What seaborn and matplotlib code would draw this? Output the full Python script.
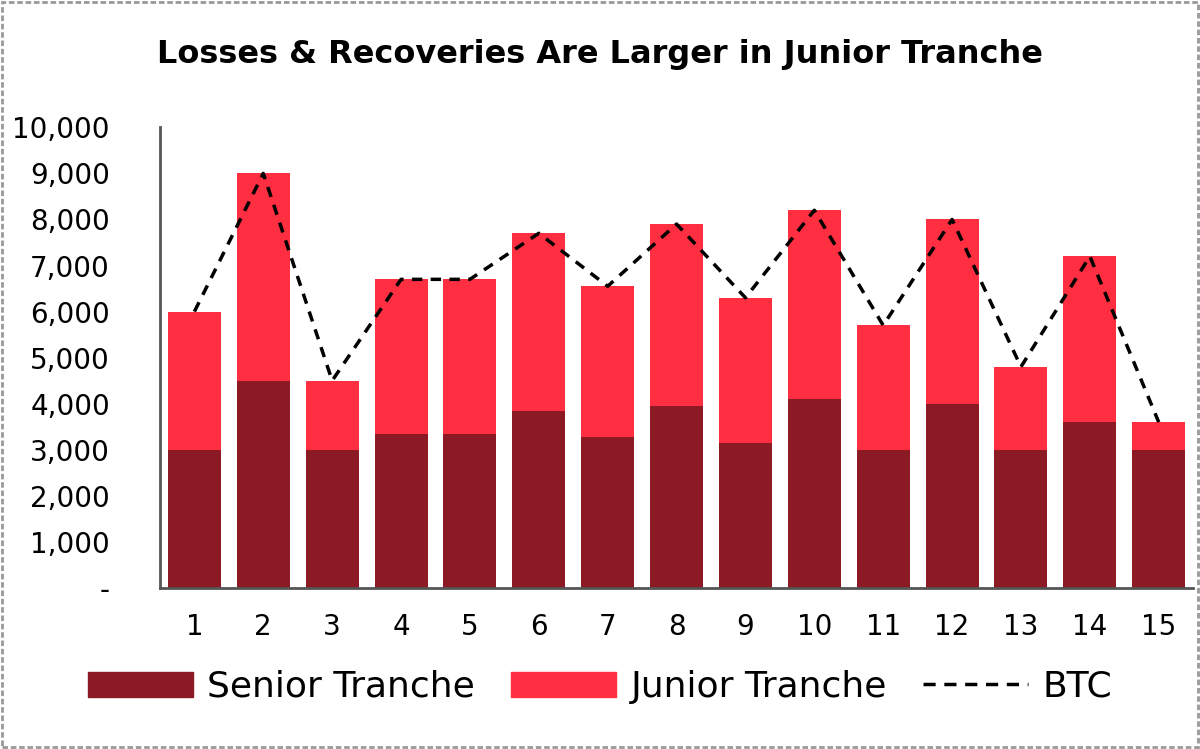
import numpy as np
import pandas as pd
import matplotlib
matplotlib.use("Agg")
import matplotlib.pyplot as plt
import matplotlib.ticker as mticker
from matplotlib.patches import Patch, Rectangle
from matplotlib.lines import Line2D
import seaborn as sns

# Data
periods = [str(i) for i in range(1, 16)]
senior = [3000, 4500, 3000, 3350, 3350, 3850, 3275, 3950, 3150, 4100, 3000, 4000, 3000, 3600, 3000]
junior = [3000, 4500, 1500, 3350, 3350, 3850, 3275, 3950, 3150, 4100, 2700, 4000, 1800, 3600, 600]
btc = [6000, 9000, 4500, 6700, 6700, 7700, 6550, 7900, 6300, 8200, 5700, 8000, 4800, 7200, 3600]
yticks = [0, 1000, 2000, 3000, 4000, 5000, 6000, 7000, 8000, 9000, 10000]

senior_color = "#8C1A24"
junior_color = "#FF2E40"

sns.set_theme(style="white")
plt.rcParams["font.family"] = ["DejaVu Sans"]
plt.rcParams["text.color"] = "black"
plt.rcParams["xtick.color"] = "black"
plt.rcParams["ytick.color"] = "black"

df = pd.DataFrame({"period": periods, "senior": senior, "junior": junior, "btc": btc})
df["total"] = df["senior"] + df["junior"]

fig = plt.figure(figsize=(12, 7.49), dpi=100)
ax = fig.add_axes([0.1333, 0.215, 0.861, 0.615])

# stacked bars: total (junior colour) underneath, senior drawn on top
sns.barplot(data=df, x="period", y="total", color=junior_color, width=0.77,
            saturation=1, ax=ax, order=periods, linewidth=0)
sns.barplot(data=df, x="period", y="senior", color=senior_color, width=0.77,
            saturation=1, ax=ax, order=periods, linewidth=0)
sns.lineplot(x=np.arange(len(periods)), y=df["btc"], color="black", lw=2.5,
             ax=ax, linestyle=(0, (3, 2.4)))

ax.set_xlim(-0.5, len(periods) - 0.5)
ax.set_ylim(0, 10000)
ax.set_yticks(yticks)
ax.yaxis.set_major_formatter(mticker.FuncFormatter(lambda v, p: "-" if v == 0 else f"{int(v):,}"))
ax.set_xlabel("")
ax.set_ylabel("")
ax.tick_params(axis="y", length=0, pad=36, labelsize=20, labelcolor="black")
ax.tick_params(axis="x", length=0, pad=18, labelsize=20, labelcolor="black")

for s in ["top", "right"]:
    ax.spines[s].set_visible(False)
for s in ["left", "bottom"]:
    ax.spines[s].set_color("#555555")
    ax.spines[s].set_linewidth(2)

fig.text(0.5, 0.927, "Losses & Recoveries Are Larger in Junior Tranche",
         ha="center", va="center", fontsize=23, fontweight="bold", color="black")

handles = [Patch(color=senior_color), Patch(color=junior_color),
           Line2D([], [], color="black", lw=2.5, linestyle=(0, (3.5, 2.5)))]
leg = fig.legend(handles, ["Senior Tranche", "Junior Tranche", "BTC"], loc="center",
                 bbox_to_anchor=(0.5, 0.083), ncol=3, frameon=False, fontsize=26,
                 handlelength=2.9, handleheight=0.7, columnspacing=1.0, handletextpad=0.4)
for t in leg.get_texts():
    t.set_color("black")

# dashed border round the image
fig.patches.append(Rectangle((0.002, 0.003), 0.996, 0.994, transform=fig.transFigure,
                             fill=False, edgecolor="#999999", lw=2, linestyle=(0, (2, 1))))

fig.savefig("out.png", dpi=100, facecolor="white")
